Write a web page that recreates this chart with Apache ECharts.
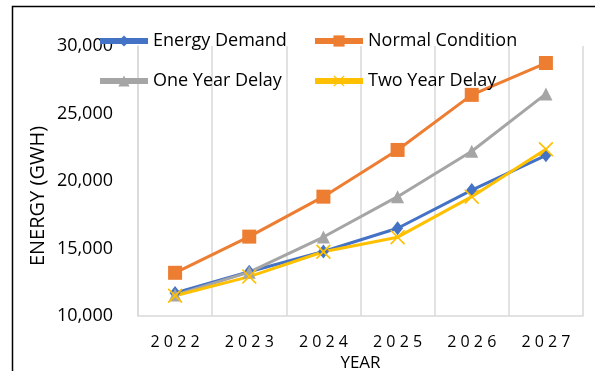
<!DOCTYPE html>
<html>
<head>
<meta charset="utf-8">
<script src="https://cdn.jsdelivr.net/npm/echarts@6/dist/echarts.min.js"></script>
<style>
  html, body { margin: 0; padding: 0; background: #fff; }
  #chart { width: 595px; height: 371px; }
</style>
</head>
<body>
<div id="chart"></div>
<script>
// Yearly energy projections (GWh) under four scenarios
const years = ['2022', '2023', '2024', '2025', '2026', '2027'];
const energyDemand = [11700, 13280, 14780, 16500, 19330, 21900];
const normalCondition = [13200, 15880, 18840, 22300, 26380, 28740];
const oneYearDelay = [11550, 13250, 15850, 18840, 22200, 26450];
const twoYearDelay = [11500, 12920, 14760, 15840, 18840, 22350];
const yTicks = { min: 10000, max: 30000, step: 5000 };

const FONT = '"Open Sans", "Liberation Sans", sans-serif';
const crossPath = 'path://M0,1.6 L1.6,0 L10,8.4 L18.4,0 L20,1.6 L11.6,10 L20,18.4 L18.4,20 L10,11.6 L1.6,20 L0,18.4 L8.4,10 Z';

function lineSeries(name, data, color, symbol, size) {
  return {
    name: name,
    type: 'line',
    data: data,
    symbol: symbol,
    symbolSize: size,
    itemStyle: { color: color },
    lineStyle: { color: color, width: 3 },
    emphasis: { disabled: true },
    animation: false
  };
}

function legendAt(name, left, top) {
  return {
    data: [name],
    left: left,
    top: top,
    itemWidth: 48,
    itemHeight: 14,
    itemGap: 0,
    padding: 0,
    selectedMode: false,
    lineStyle: { width: 6 },
    textStyle: { fontFamily: FONT, fontSize: 18, color: '#000', padding: [0, 0, 0, 0] }
  };
}

const chart = echarts.init(document.getElementById('chart'), null, { renderer: 'canvas' });
chart.setOption({
  backgroundColor: '#fff',
  animation: false,
  grid: { left: 138, right: 12, top: 46, bottom: 55, containLabel: false, outerBoundsMode: 'none' },
  legend: [
    legendAt('Energy Demand', 97, 32),
    legendAt('Normal Condition', 312, 32),
    legendAt('One Year Delay', 97, 72),
    legendAt('Two Year Delay', 312, 72)
  ],
  xAxis: {
    type: 'category',
    data: years,
    boundaryGap: true,
    name: 'YEAR',
    nameLocation: 'middle',
    nameGap: 32,
    nameTextStyle: { fontFamily: FONT, fontSize: 17, color: '#000' },
    axisLine: { show: true, lineStyle: { color: '#d9d9d9', width: 1.5 } },
    axisTick: { show: false },
    axisLabel: {
      margin: 18,
      fontFamily: FONT,
      fontSize: 16,
      color: '#000',
      formatter: v => v.split('').join(' ')
    },
    splitLine: { show: true, lineStyle: { color: '#d9d9d9', width: 1.5 } }
  },
  yAxis: {
    type: 'value',
    min: yTicks.min,
    max: yTicks.max,
    interval: yTicks.step,
    axisLine: { show: true, lineStyle: { color: '#d9d9d9', width: 1.5 } },
    axisTick: { show: false },
    splitLine: { show: false },
    axisLabel: {
      margin: 25,
      fontFamily: FONT,
      fontSize: 18,
      color: '#000',
      formatter: v => v.toLocaleString('en-US')
    }
  },
  series: [
    lineSeries('Energy Demand', energyDemand, '#4472C4', 'diamond', [11, 14]),
    lineSeries('Normal Condition', normalCondition, '#ED7D31', 'rect', 14),
    lineSeries('One Year Delay', oneYearDelay, '#A5A5A5', 'triangle', 13),
    lineSeries('Two Year Delay', twoYearDelay, '#FFC000', crossPath, 15)
  ],
  graphic: [{
    type: 'polyline',
    silent: true,
    shape: { points: [[12.5, 371], [12.5, 6.5], [595, 6.5]] },
    style: { stroke: '#000', lineWidth: 1.5, fill: null }
  }, {
    // vertical axis title
    type: 'text',
    silent: true,
    x: 38,
    y: 196,
    rotation: Math.PI / 2,
    style: {
      text: 'ENERGY (GWH)',
      fontFamily: FONT,
      fontSize: 20,
      fill: '#000',
      align: 'center',
      verticalAlign: 'middle'
    }
  }]
});
</script>
</body>
</html>
